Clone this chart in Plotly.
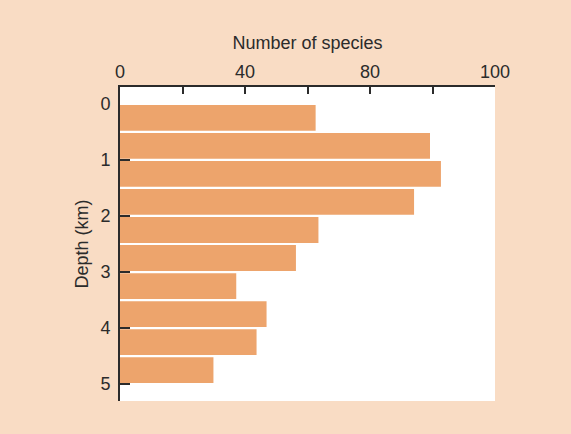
import plotly.graph_objects as go

# Depth bins (km, bin midpoints) and number of species per bin
depth_mid = [0.25, 0.75, 1.25, 1.75, 2.25, 2.75, 3.25, 3.75, 4.25, 4.75]
species = [62.6, 99.2, 102.7, 94.1, 63.5, 56.3, 37.2, 46.9, 43.7, 29.9]

x_tickvals = [0, 20, 40, 60, 80, 100, 120]
x_ticktext = ["0", "", "40", "", "80", "", "100"]
y_tickvals = [0, 1, 2, 3, 4, 5]
y_ticktext = ["0", "1", "2", "3", "4", "5"]

PEACH = "#F9DCC4"
BAR = "#EDA46C"
INK = "#2b2b2b"
FONT = "Liberation Sans, Arial, sans-serif"

fig = go.Figure()
fig.add_trace(go.Bar(
    x=species, y=depth_mid, orientation="h",
    marker=dict(color=BAR, line=dict(width=0)),
    hoverinfo="x+y",
))
# invisible trace for the overlay axis carrying the tick marks
fig.add_trace(go.Scatter(x=[None], y=[None], yaxis="y2", showlegend=False, hoverinfo="skip"))

fig.update_layout(
    width=571, height=434,
    margin=dict(l=120, r=76, t=87, b=33),
    paper_bgcolor=PEACH,
    plot_bgcolor="white",
    bargap=0.08,
    showlegend=False,
    font=dict(family=FONT, color=INK, size=18),
    xaxis=dict(
        side="top", range=[0, 120], automargin=False,
        tickvals=x_tickvals, ticktext=x_ticktext,
        ticks="inside", ticklen=7, tickwidth=1.5, tickcolor=INK,
        showline=True, linewidth=2, linecolor=INK,
        showgrid=False, zeroline=False,
        title=dict(text="Number of species", font=dict(size=18), standoff=7),
        tickfont=dict(size=18),
    ),
    yaxis=dict(
        range=[5.3, -0.3], automargin=False,
        tickvals=y_tickvals, ticktext=y_ticktext,
        ticks="", showline=True, linewidth=2, linecolor=INK,
        showgrid=False, zeroline=False,
        ticklabelstandoff=4,
        title=dict(text="Depth (km)", font=dict(size=18), standoff=7),
        tickfont=dict(size=18),
    ),
    yaxis2=dict(
        overlaying="y", side="left", range=[5.3, -0.3], automargin=False,
        tickvals=y_tickvals[1:], showticklabels=False,
        ticks="inside", ticklen=10, tickwidth=2, tickcolor=INK,
        showgrid=False, zeroline=False, showline=False,
    ),
)

fig.write_html("out.html", config={"displayModeBar": False},
               post_script="document.body.style.margin='0';")
